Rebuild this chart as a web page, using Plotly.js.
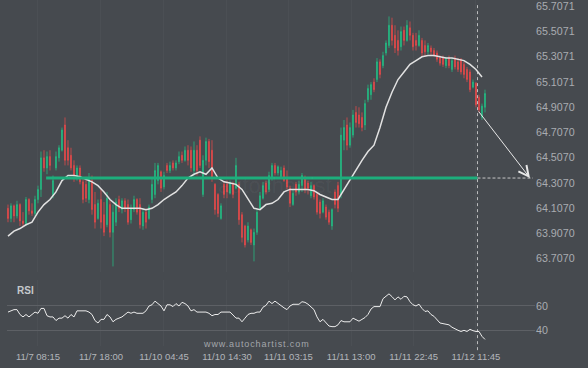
<!DOCTYPE html>
<html><head><meta charset="utf-8">
<script src="https://cdn.plot.ly/plotly-3.0.1.min.js"></script>
<style>html,body{margin:0;padding:0;background:#464a4f;}#chart{width:588px;height:368px;}</style>
</head><body><div id="chart"></div>
<script>
// ---- data (15-minute bars, index 0..159) ----
const openP = [
64.09,64.01,64.11,64.03,64.12,63.99,63.97,64.16,64.07,64.05,
64.16,64.24,64.49,64.41,64.50,64.19,64.41,64.49,64.55,64.75,
64.57,64.51,64.43,64.33,64.41,64.30,64.28,64.16,64.31,64.12,
64.01,64.16,64.04,63.96,64.12,63.90,63.98,64.16,64.08,64.15,
64.12,64.00,64.08,64.16,64.12,63.95,64.06,64.01,64.16,64.20,
64.31,64.38,64.26,64.43,64.39,64.45,64.41,64.46,64.51,64.47,
64.55,64.55,64.39,64.55,64.63,64.20,64.47,64.62,64.55,64.28,
64.20,64.01,64.28,64.28,64.21,64.28,64.25,64.28,64.04,63.95,
63.84,63.92,63.80,63.90,64.09,64.17,64.29,64.24,64.33,64.43,
64.37,64.34,64.41,64.33,64.25,64.12,64.28,64.22,64.27,64.33,
64.29,64.19,64.27,64.20,64.14,64.06,64.10,64.06,63.95,64.22,
64.27,64.20,64.63,64.75,64.59,64.67,64.85,64.83,64.81,64.75,
64.95,64.99,65.09,65.11,65.25,65.22,65.32,65.38,65.54,65.46,
65.42,65.37,65.50,65.42,65.52,65.46,65.42,65.38,65.42,65.38,
65.33,65.36,65.34,65.32,65.28,65.28,65.22,65.28,65.19,65.28,
65.25,65.27,65.23,65.19,65.17,65.05,65.08,64.97,64.81,64.89];
const highP = [
64.12,64.13,64.12,64.15,64.13,64.06,64.18,64.17,64.13,64.19,
64.27,64.54,64.55,64.54,64.55,64.35,64.54,64.59,64.73,64.81,
64.63,64.57,64.47,64.43,64.43,64.33,64.34,64.37,64.35,64.22,
64.16,64.24,64.14,64.22,64.16,64.12,64.17,64.19,64.17,64.17,
64.16,64.12,64.19,64.17,64.17,64.09,64.09,64.12,64.33,64.45,
64.45,64.39,64.38,64.45,64.46,64.47,64.47,64.54,64.54,64.58,
64.59,64.58,64.62,64.59,64.66,64.51,64.65,64.64,64.63,64.29,
64.21,64.13,64.30,64.31,64.31,64.30,64.49,64.30,64.06,63.96,
63.98,63.93,63.93,64.09,64.22,64.30,64.31,64.38,64.45,64.45,
64.43,64.42,64.43,64.39,64.27,64.24,64.30,64.31,64.37,64.35,
64.31,64.30,64.28,64.22,64.16,64.17,64.12,64.08,64.09,64.24,
64.30,64.73,64.79,64.81,64.77,64.87,64.90,64.89,64.85,64.95,
65.07,65.09,65.12,65.28,65.27,65.33,65.42,65.61,65.60,65.54,
65.50,65.53,65.53,65.58,65.57,65.48,65.48,65.50,65.44,65.42,
65.40,65.38,65.36,65.34,65.30,65.30,65.29,65.30,65.28,65.30,
65.28,65.28,65.25,65.21,65.19,65.11,65.09,64.99,64.92,65.03];
const lowP = [
63.98,63.98,63.98,64.01,63.95,63.94,63.95,64.04,64.03,64.03,
64.13,64.18,64.38,64.36,64.39,64.17,64.39,64.46,64.54,64.43,
64.43,64.39,64.30,64.31,64.28,64.13,64.14,64.13,64.04,63.93,
64.00,63.93,63.87,63.94,63.86,63.63,63.95,64.06,64.05,64.06,
63.96,63.97,64.06,64.04,63.93,63.92,63.93,64.00,64.13,64.17,
64.28,64.22,64.24,64.37,64.37,64.39,64.39,64.44,64.45,64.46,
64.43,64.38,64.35,64.35,64.41,64.18,64.43,64.41,64.30,64.04,
64.02,64.00,64.17,64.17,64.20,64.17,64.24,63.96,63.82,63.78,
63.82,63.80,63.67,63.88,64.08,64.16,64.20,64.22,64.31,64.35,
64.35,64.33,64.30,64.24,64.10,64.11,64.19,64.20,64.22,64.21,
64.20,64.17,64.16,64.04,64.01,64.05,64.00,63.96,63.92,64.09,
64.06,64.17,64.55,64.55,64.57,64.65,64.73,64.73,64.70,64.71,
64.93,64.95,65.01,65.09,65.12,65.20,65.30,65.36,65.38,65.32,
65.30,65.34,65.38,65.41,65.42,65.34,65.34,65.37,65.29,65.29,
65.31,65.30,65.29,65.25,65.22,65.21,65.20,65.20,65.17,65.19,
65.17,65.15,65.12,65.09,65.01,65.04,64.89,64.85,64.79,64.85];
const closeP = [
64.01,64.11,64.03,64.12,63.99,63.97,64.16,64.07,64.05,64.16,
64.24,64.49,64.41,64.50,64.43,64.31,64.50,64.57,64.71,64.47,
64.47,64.41,64.35,64.41,64.30,64.16,64.17,64.33,64.08,63.98,
64.13,63.98,63.90,64.17,63.90,64.06,64.14,64.09,64.15,64.09,
63.98,64.09,64.16,64.06,63.96,64.06,63.98,64.10,64.28,64.39,
64.43,64.25,64.35,64.39,64.43,64.41,64.45,64.50,64.47,64.55,
64.47,64.41,64.55,64.39,64.43,64.47,64.62,64.46,64.33,64.08,
64.05,64.11,64.20,64.22,64.29,64.20,64.43,64.00,63.86,63.80,
63.95,63.82,63.90,64.06,64.19,64.27,64.22,64.35,64.43,64.37,
64.42,64.39,64.31,64.26,64.13,64.21,64.22,64.28,64.35,64.24,
64.25,64.27,64.18,64.06,64.05,64.15,64.02,63.98,64.08,64.12,
64.09,64.67,64.73,64.59,64.73,64.83,64.77,64.76,64.73,64.92,
65.04,65.07,65.03,65.25,65.15,65.30,65.40,65.54,65.42,65.36,
65.34,65.49,65.42,65.54,65.46,65.37,65.38,65.46,65.32,65.33,
65.38,65.33,65.30,65.27,65.24,65.23,65.27,65.22,65.26,65.21,
65.19,65.17,65.15,65.11,65.03,65.09,64.91,64.87,64.90,65.00];
// moving average, read every 2nd bar
const maValues = [
63.87,63.91,63.93,63.96,63.98,64.06,64.12,64.16,64.22,64.31,
64.35,64.35,64.34,64.32,64.30,64.27,64.22,64.16,64.12,64.09,
64.09,64.09,64.09,64.08,64.09,64.12,64.16,64.19,64.22,64.27,
64.33,64.36,64.38,64.36,64.41,64.33,64.30,64.29,64.28,64.24,
64.16,64.09,64.08,64.12,64.13,64.16,64.22,64.24,64.24,64.24,
64.24,64.23,64.20,64.18,64.16,64.16,64.24,64.32,64.39,64.47,
64.54,64.59,64.73,64.89,65.01,65.11,65.17,65.23,65.26,65.29,
65.30,65.30,65.29,65.28,65.28,65.27,65.26,65.23,65.19,65.13];
const rsiValues = [
55,56,57,57,53,51,53,51,53,55,
54,58,58,52,51,51,48,50,50,52,
50,53,51,56,56,56,56,55,53,48,
46,49,49,53,51,47,49,50,51,53,
55,54,55,54,54,54,56,60,61,64,
62,60,56,61,61,59.5,62,60,63,62,
60,56,57,55,55,55,55,54,52,53,
53,55,55,55,55,52.6,50,50,47,50,
53,54,54,55,55,59,60.5,64,62,64,
62,60,58.5,57,60,61.4,61.4,61.4,63.5,63,
61.5,59.5,57,51,47,49,46,43.5,43,43,
44.5,48,47,47,47,50,48.5,47.5,49,50.5,
53,57.5,59.5,59.5,59.5,66,68,70,67.7,65,
67.5,65.5,68,67.5,63.5,61,60,61.5,58,55.5,
56,53,51.5,48.5,46,45.5,45,44.5,42.5,41,
40,39,40,39,40.8,39.7,39,39,35,32.5];
const tickIndex = [10, 31, 52, 73, 93.5, 114.4, 135.2, 156];
const tickLabels = ['11/7 08:15','11/7 18:00','11/10 04:45','11/10 14:30','11/11 03:15','11/11 13:00','11/11 22:45','11/12 11:45'];
const priceTicks = [65.7071,65.5071,65.3071,65.1071,64.9070,64.7070,64.5070,64.3070,64.1070,63.9070,63.7070];
const priceTickText = ['65.7071','65.5071','65.3071','65.1071','64.9070','64.7070','64.5070','64.3070','64.1070','63.9070','63.7070'];
const rsiTicks = [60, 40];
// pattern / forecast
const levelPrice = 64.330;
const levelStartIdx = 12.7;
const nowIdx = 156.5;
const targetIdx = 174;
const arrowStartPrice = 64.869;

const barIdx = closeP.map((_, i) => i);
const maIdx = maValues.map((_, k) => 2 * k);
const rsiIdx = rsiValues.map((_, i) => i);

const green = '#22c386', red = '#ef4b4b';
const traces = [
  {type:'candlestick', x:barIdx, open:openP, high:highP, low:lowP, close:closeP,
   xaxis:'x', yaxis:'y', hoverinfo:'skip',
   increasing:{line:{color:green, width:0.7}, fillcolor:green},
   decreasing:{line:{color:red, width:0.7}, fillcolor:red}},
  {type:'scatter', mode:'lines', x:maIdx, y:maValues, xaxis:'x', yaxis:'y',
   line:{color:'#e2e2e2', width:1.5}, hoverinfo:'skip'},
  {type:'scatter', mode:'lines', x:rsiIdx, y:rsiValues, xaxis:'x', yaxis:'y2',
   line:{color:'#ececec', width:1}, hoverinfo:'skip'}
];
const layout = {
  width:588, height:368,
  paper_bgcolor:'#464a4f', plot_bgcolor:'#464a4f',
  margin:{l:7, r:53, t:0, b:22},
  showlegend:false, boxgap:0.6,
  font:{family:'Liberation Sans, Arial, sans-serif', color:'#a9acb1'},
  xaxis:{range:[-0.33, 175.67], anchor:'y2', tickvals:tickIndex, ticktext:tickLabels,
    showgrid:true, gridcolor:'rgba(255,255,255,0.03)', zeroline:false, showline:false, ticks:'',
    ticklabelstandoff:3, tickfont:{size:9.5, color:'#b3b6bb'}, rangeslider:{visible:false}},
  yaxis:{domain:[0.2139, 1], range:[63.586, 65.740], side:'right', tickvals:priceTicks, ticktext:priceTickText,
    showgrid:false, zeroline:false, ticks:'', ticklabeloverflow:'allow', ticklabelshift:2,
    tickfont:{size:10.7, color:'#a9acb1'}},
  yaxis2:{domain:[0, 0.1908], range:[27.08, 81.4], side:'right', tickvals:rsiTicks,
    showgrid:true, gridcolor:'#5d6065', gridwidth:1, zeroline:false, ticks:'', tickfont:{size:10.7, color:'#a9acb1'}},
  shapes:[
    {type:'line', xref:'x', yref:'y', x0:levelStartIdx, x1:nowIdx, y0:levelPrice, y1:levelPrice,
     line:{color:'#1dae7c', width:3}},
    {type:'line', xref:'x', yref:'y', x0:nowIdx, x1:targetIdx + 1, y0:levelPrice, y1:levelPrice,
     line:{color:'rgba(230,230,230,0.8)', width:1, dash:'3px,2px'}},
    {type:'line', xref:'x', yref:'paper', x0:nowIdx, x1:nowIdx, y0:-0.012, y1:0.988,
     line:{color:'rgba(230,230,230,0.75)', width:1, dash:'3px,3px'}}
  ],
  annotations:[
    {xref:'x', yref:'y', axref:'x', ayref:'y', x:targetIdx, y:levelPrice, ax:nowIdx, ay:arrowStartPrice,
     showarrow:true, arrowhead:5, arrowsize:2, arrowwidth:1, arrowcolor:'#e8e8e8', text:''},
    {xref:'paper', yref:'paper', x:0.0152, y:0.159, xanchor:'left', yanchor:'middle', showarrow:false,
     text:'<b>RSI</b>', font:{size:10, color:'#c5c8cc'}},
    {xref:'paper', yref:'paper', x:0.3845, y:0.0058, xanchor:'left', yanchor:'middle', showarrow:false,
     text:'www.autochartist.com', font:{size:9, color:'#a3a6ab'}},
    {xref:'paper', yref:'paper', x:0.5076, y:0.465, xanchor:'center', yanchor:'middle', showarrow:false,
     text:'autochartist', font:{size:22, color:'rgba(255,255,255,0.045)'}}
  ]
};
Plotly.newPlot('chart', traces, layout, {staticPlot:true, displayModeBar:false}).then(() => {
  document.querySelectorAll('.annotation-text').forEach(t => {
    if (t.textContent === 'www.autochartist.com') t.style.letterSpacing = '0.9px';
  });
});
</script>
</body></html>
